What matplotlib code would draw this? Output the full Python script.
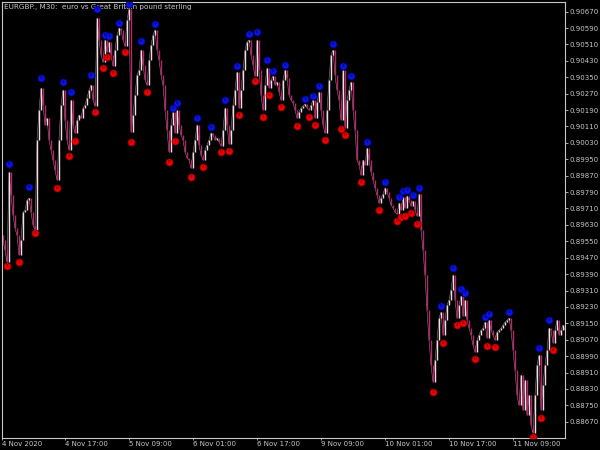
import matplotlib
matplotlib.use("Agg")
import matplotlib.pyplot as plt
from matplotlib.collections import LineCollection

title = "EURGBP., M30:  euro vs Great Britain pound sterling"

first_open = 0.89580
closes = [
    0.89556, 0.89507, 0.89448, 0.89888, 0.89775, 0.89678, 0.89614, 0.89580, 0.89483, 0.89556,
    0.89692, 0.89702, 0.89751, 0.89761, 0.89692, 0.89629, 0.89605, 0.90044, 0.90190, 0.90298,
    0.90215, 0.90117, 0.90151, 0.90044, 0.89995, 0.89946, 0.89897, 0.89849, 0.90044, 0.90215,
    0.90288, 0.90141, 0.90044, 0.89995, 0.90239, 0.90117, 0.90078, 0.90141, 0.90166, 0.90151,
    0.90200, 0.90215, 0.90249, 0.90288, 0.90312, 0.90239, 0.90210, 0.90639, 0.90532, 0.90459,
    0.90424, 0.90532, 0.90473, 0.90522, 0.90459, 0.90405, 0.90483, 0.90556, 0.90590, 0.90581,
    0.90532, 0.90502, 0.90629, 0.90683, 0.90083, 0.90166, 0.90263, 0.90361, 0.90385, 0.90483,
    0.90410, 0.90337, 0.90312, 0.90434, 0.90507, 0.90556, 0.90581, 0.90483, 0.90434, 0.90361,
    0.90312, 0.90190, 0.90093, 0.89985, 0.90117, 0.90180, 0.90078, 0.90190, 0.90117, 0.90068,
    0.90044, 0.89985, 0.89956, 0.89946, 0.89907, 0.89985, 0.90044, 0.90117, 0.90019, 0.89971,
    0.89946, 0.89995, 0.90019, 0.90044, 0.90078, 0.90068, 0.90044, 0.90054, 0.90034, 0.90015,
    0.90093, 0.90200, 0.90117, 0.90024, 0.90093, 0.90215, 0.90288, 0.90376, 0.90200, 0.90288,
    0.90385, 0.90483, 0.90522, 0.90532, 0.90459, 0.90410, 0.90356, 0.90532, 0.90385, 0.90263,
    0.90190, 0.90312, 0.90395, 0.90298, 0.90337, 0.90356, 0.90312, 0.90327, 0.90278, 0.90239,
    0.90337, 0.90385, 0.90346, 0.90263, 0.90239, 0.90224, 0.90190, 0.90151, 0.90180, 0.90200,
    0.90210, 0.90220, 0.90200, 0.90190, 0.90215, 0.90239, 0.90151, 0.90229, 0.90278, 0.90190,
    0.90117, 0.90078, 0.90190, 0.90337, 0.90459, 0.90483, 0.90361, 0.90288, 0.90239, 0.90141,
    0.90385, 0.90102, 0.90239, 0.90288, 0.90327, 0.90190, 0.90093, 0.89946, 0.89922, 0.89873,
    0.89946, 0.89922, 0.90005, 0.89946, 0.89888, 0.89849, 0.89810, 0.89775, 0.89736, 0.89761,
    0.89780, 0.89810, 0.89790, 0.89761, 0.89727, 0.89712, 0.89692, 0.89683, 0.89736, 0.89702,
    0.89766, 0.89712, 0.89771, 0.89751, 0.89722, 0.89746, 0.89702, 0.89673, 0.89780, 0.89605,
    0.89507, 0.89385, 0.89214, 0.89068, 0.88946, 0.88863, 0.88970, 0.89068, 0.89175, 0.89204,
    0.89092, 0.89165, 0.89239, 0.89263, 0.89312, 0.89385, 0.89263, 0.89175, 0.89239, 0.89282,
    0.89185, 0.89263, 0.89165, 0.89126, 0.89092, 0.89043, 0.89009, 0.89068, 0.89092, 0.89117,
    0.89126, 0.89156, 0.89078, 0.89165, 0.89117, 0.89092, 0.89068, 0.89107, 0.89117, 0.89126,
    0.89141, 0.89156, 0.89165, 0.89175, 0.89117, 0.89019, 0.88921, 0.88799, 0.88751, 0.88897,
    0.88726, 0.88873, 0.88702, 0.88799, 0.88653, 0.88614, 0.88799, 0.88946, 0.88995, 0.88726,
    0.88848, 0.88946, 0.89019, 0.89126, 0.89117, 0.89053, 0.89117, 0.89165, 0.89092, 0.89117,
    0.89141, 0.89117,
]

high_idx = [3, 13, 19, 30, 34, 44, 47, 51, 53, 58, 63, 69, 76, 85, 87, 97, 104, 111, 117,
            123, 127, 132, 135, 141, 151, 155, 158, 165, 170, 174, 182, 191, 198, 200, 202,
            205, 208, 219, 225, 229, 231, 241, 243, 253, 268, 273]
high_px = [0.89927, 0.89815, 0.90346, 0.90327, 0.90278, 0.90361, 0.90683, 0.90556, 0.90551,
           0.90615, 0.90707, 0.90527, 0.90610, 0.90200, 0.90224, 0.90151, 0.90107, 0.90239,
           0.90405, 0.90561, 0.90571, 0.90434, 0.90381, 0.90410, 0.90244, 0.90258, 0.90307,
           0.90512, 0.90405, 0.90356, 0.90034, 0.89839, 0.89766, 0.89795, 0.89800, 0.89775,
           0.89810, 0.89234, 0.89419, 0.89317, 0.89297, 0.89180, 0.89195, 0.89204, 0.89029,
           0.89165]
high_lbl = ["6", "8", "8", "8", "6", "8", "9", "6", "7", "8", "9", "6", "8", "5", "8", "5",
            "6", "6", "9", "9", "8", "5", "6", "8", "5", "9", "9", "6", "7", "5", "5", "5",
            "5", "6", "9", "5", "8", "5", "8", "6", "7", "6", "8", "8", "6", "8"]

low_idx = [2, 8, 16, 27, 33, 36, 46, 50, 52, 55, 61, 64, 72, 83, 86, 94, 100, 109, 113, 118,
           126, 130, 133, 139, 147, 153, 156, 161, 169, 171, 179, 188, 197, 199, 201, 204,
           207, 215, 220, 227, 230, 236, 242, 246, 265, 269, 275]
low_px = [0.89429, 0.89448, 0.89590, 0.89810, 0.89966, 0.90039, 0.90180, 0.90395, 0.90449,
          0.90371, 0.90473, 0.90034, 0.90278, 0.89937, 0.90039, 0.89863, 0.89912, 0.89985,
          0.89990, 0.90166, 0.90332, 0.90156, 0.90263, 0.90205, 0.90112, 0.90156, 0.90117,
          0.90044, 0.90097, 0.90068, 0.89839, 0.89702, 0.89649, 0.89668, 0.89673, 0.89688,
          0.89634, 0.88814, 0.89053, 0.89141, 0.89151, 0.88975, 0.89038, 0.89034, 0.88595,
          0.88687, 0.89019]
low_lbl = ["3", "1", "2", "0", "4", "1", "2", "0", "1", "0", "2", "3", "1", "0", "1", "3",
           "3", "0", "3", "4", "2", "1", "0", "3", "3", "2", "0", "3", "2", "0", "3", "3",
           "0", "1", "2", "4", "0", "0", "4", "4", "2", "0", "1", "3", "3", "3", "4"]

y_ticks = [0.90670, 0.90590, 0.90510, 0.90430, 0.90350, 0.90270, 0.90190, 0.90110, 0.90030,
           0.89950, 0.89870, 0.89790, 0.89710, 0.89630, 0.89550, 0.89470, 0.89390, 0.89310,
           0.89230, 0.89150, 0.89070, 0.88990, 0.88910, 0.88830, 0.88750, 0.88670]
x_tick_idx = [-0.5, 31, 63, 95, 127, 159, 191, 223, 255]
x_tick_lbl = ["4 Nov 2020", "4 Nov 17:00", "5 Nov 09:00", "6 Nov 01:00", "6 Nov 17:00",
              "9 Nov 09:00", "10 Nov 01:00", "10 Nov 17:00", "11 Nov 09:00"]

fg = "#c8c8c8"
fig = plt.figure(figsize=(6, 4.5), dpi=100, facecolor="black")
ax = fig.add_axes([2 / 600, 12 / 450, 563 / 600, 436 / 450], facecolor="black")

opens = [first_open] + closes[:-1]
segs_up, segs_dn = [], []
for i, (o, c) in enumerate(zip(opens, closes)):
    if c >= o:
        segs_up.append([(i, o), (i, c)])
    else:
        segs_dn.append([(i, o), (i, c)])
ax.plot(range(len(closes)), closes, color="#8a8a8a", lw=0.4, zorder=1)
ax.add_collection(LineCollection(segs_up, colors="#f6dbe3", linewidths=1.0, zorder=2))
ax.add_collection(LineCollection(segs_dn, colors="#c2226a", linewidths=1.0, zorder=2))

ax.scatter(high_idx, high_px, s=26, color="#0a14e6", edgecolors="#000080",
           linewidths=0.5, zorder=5)
ax.scatter(low_idx, low_px, s=26, color="#f00000", edgecolors="#800000",
           linewidths=0.5, zorder=5)
for x, y, t in zip(high_idx, high_px, high_lbl):
    ax.text(x, y, t, color="#000030", fontsize=3.0, ha="center", va="center", zorder=6)
for x, y, t in zip(low_idx, low_px, low_lbl):
    ax.text(x, y, t, color="#300000", fontsize=3.0, ha="center", va="center", zorder=6)

ax.set_xlim(-0.5, 281)
ax.set_ylim(0.885905, 0.907173)

ax.yaxis.tick_right()
ax.set_yticks(y_ticks)
ax.set_yticklabels([f"{v:.5f}" for v in y_ticks])
ax.set_xticks(x_tick_idx)
ax.set_xticklabels(x_tick_lbl, ha="left")
ax.tick_params(axis="y", colors=fg, labelsize=5.0, length=2.5, width=0.6, pad=1)
ax.tick_params(axis="x", colors=fg, labelsize=5.0, length=1.5, width=0.6, pad=0.5)
for s in ax.spines.values():
    s.set_color(fg)
    s.set_linewidth(0.8)

ax.text(0.004, 0.995, title, transform=ax.transAxes, color=fg, fontsize=5.2,
        ha="left", va="top")

fig.savefig("out.png", dpi=100, facecolor="black")
